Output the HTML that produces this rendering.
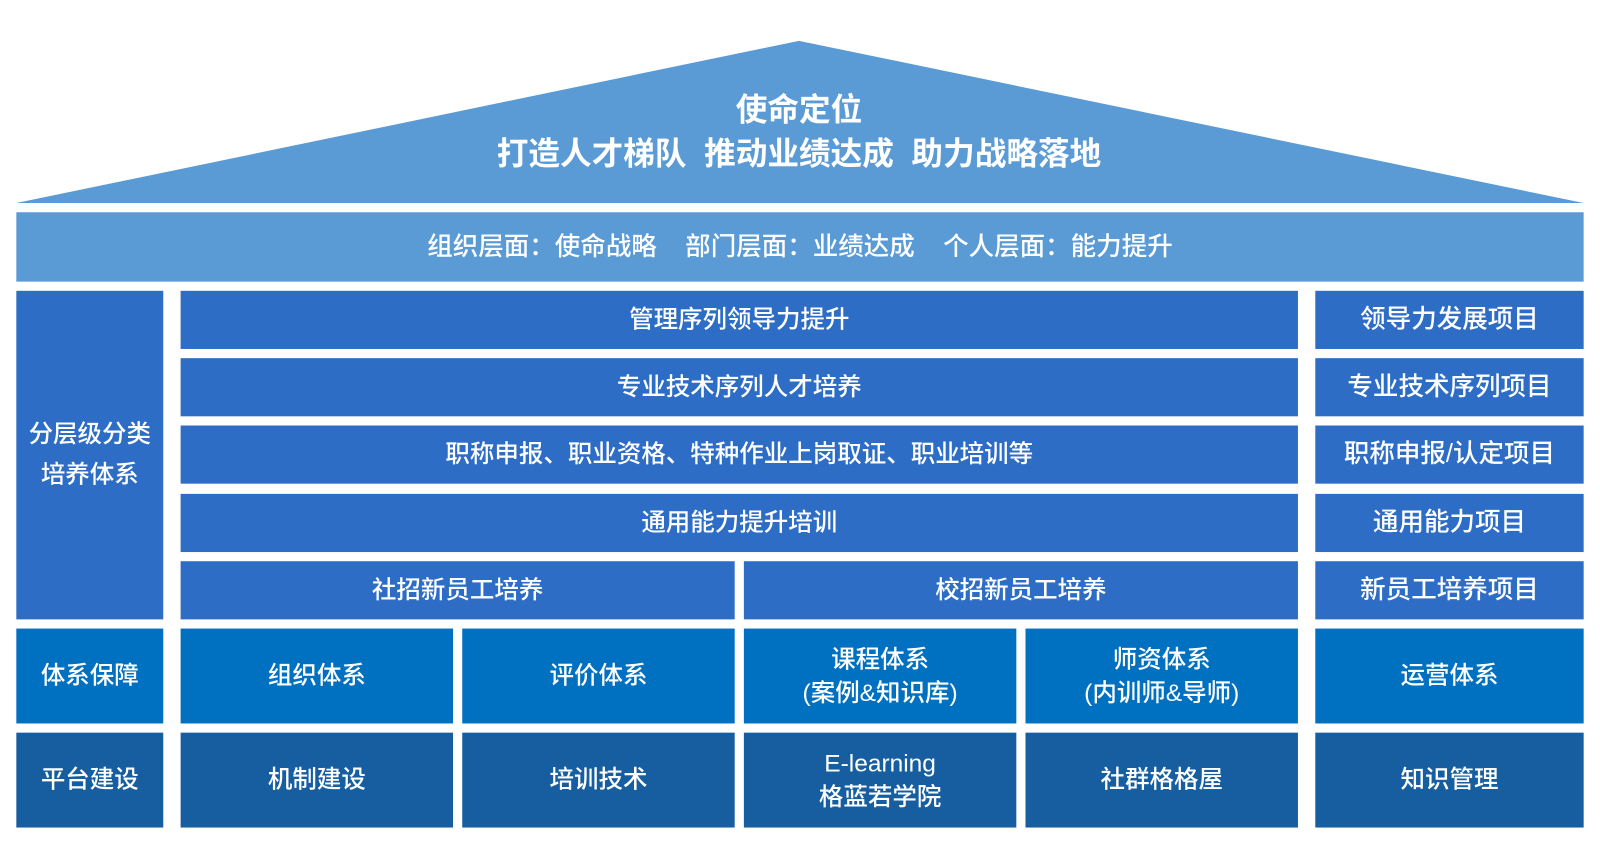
<!DOCTYPE html>
<html><head><meta charset="utf-8"><style>
body{margin:0;width:1600px;height:868px;background:#fff;position:relative;overflow:hidden;font-family:"Liberation Sans","Noto Sans CJK SC",sans-serif;color:#fff}
#w{position:absolute;left:0;top:0;width:1568px;height:851px;transform:scale(1.0204);transform-origin:0 0}
.b{position:absolute;display:flex;align-items:center;justify-content:center;text-align:center;font-size:24px;line-height:33px;box-sizing:border-box;font-weight:500}
.r{background:#2e6dc5}
.m{background:#0070c0}
.d{background:#165ea0}
</style></head><body><div id="w">
<svg style="position:absolute;left:0;top:0" width="1568" height="851"><polygon points="16,199 783,40 1552,199" fill="#5b9bd5"/></svg>
<div class="b" style="left:300px;top:86px;width:966px;height:42px;font-size:31px;font-weight:bold">使命定位</div>
<div class="b" style="left:300px;top:129px;width:966px;height:42px;font-size:31px;font-weight:bold">打造人才梯队&nbsp;&nbsp;推动业绩达成&nbsp;&nbsp;助力战略落地</div>
<div class="b" style="left:16px;top:208px;width:1536px;height:68px;background:#5b9bd5;font-size:25px">组织层面：使命战略&nbsp;&nbsp;&nbsp;&nbsp;部门层面：业绩达成&nbsp;&nbsp;&nbsp;&nbsp;个人层面：能力提升</div>

<div class="b r" style="left:16px;top:285px;width:144px;height:322px;font-size:24px;line-height:40px">分层级分类<br>培养体系</div>
<div class="b r" style="left:177px;top:285px;width:1095px;height:57px">管理序列领导力提升</div>
<div class="b r" style="left:177px;top:351px;width:1095px;height:57px">专业技术序列人才培养</div>
<div class="b r" style="left:177px;top:417px;width:1095px;height:57px">职称申报、职业资格、特种作业上岗取证、职业培训等</div>
<div class="b r" style="left:177px;top:484px;width:1095px;height:57px">通用能力提升培训</div>
<div class="b r" style="left:177px;top:550px;width:543px;height:57px">社招新员工培养</div>
<div class="b r" style="left:729px;top:550px;width:543px;height:57px">校招新员工培养</div>
<div class="b r" style="left:1289px;top:285px;width:263px;height:57px;font-size:25px">领导力发展项目</div>
<div class="b r" style="left:1289px;top:351px;width:263px;height:57px;font-size:25px">专业技术序列项目</div>
<div class="b r" style="left:1289px;top:417px;width:263px;height:57px;font-size:25px">职称申报/认定项目</div>
<div class="b r" style="left:1289px;top:484px;width:263px;height:57px;font-size:25px">通用能力项目</div>
<div class="b r" style="left:1289px;top:550px;width:263px;height:57px;font-size:25px">新员工培养项目</div>

<div class="b m" style="left:16px;top:616px;width:144px;height:93px">体系保障</div>
<div class="b m" style="left:177px;top:616px;width:267px;height:93px">组织体系</div>
<div class="b m" style="left:453px;top:616px;width:267px;height:93px">评价体系</div>
<div class="b m" style="left:729px;top:616px;width:267px;height:93px">课程体系<br>(案例&amp;知识库)</div>
<div class="b m" style="left:1005px;top:616px;width:267px;height:93px">师资体系<br>(内训师&amp;导师)</div>
<div class="b m" style="left:1289px;top:616px;width:263px;height:93px">运营体系</div>

<div class="b d" style="left:16px;top:718px;width:144px;height:93px">平台建设</div>
<div class="b d" style="left:177px;top:718px;width:267px;height:93px">机制建设</div>
<div class="b d" style="left:453px;top:718px;width:267px;height:93px">培训技术</div>
<div class="b d" style="left:729px;top:718px;width:267px;height:93px">E-learning<br>格蓝若学院</div>
<div class="b d" style="left:1005px;top:718px;width:267px;height:93px">社群格格屋</div>
<div class="b d" style="left:1289px;top:718px;width:263px;height:93px">知识管理</div>
</div></body></html>
